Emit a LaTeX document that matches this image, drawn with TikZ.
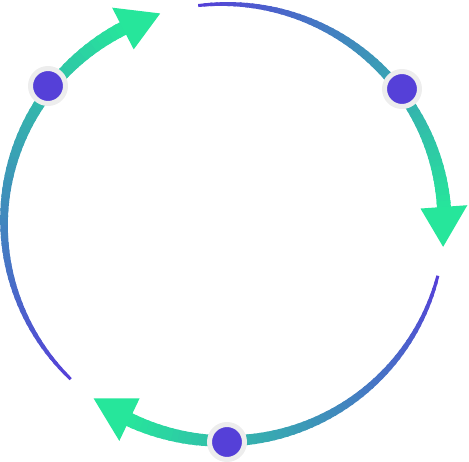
\documentclass[tikz,border=0pt]{standalone}
\usepackage{tikz}
\definecolor{cpurple}{RGB}{85,64,216}
\definecolor{cgreen}{RGB}{38,230,155}
\definecolor{ringgray}{RGB}{237,237,237}
\begin{document}
\begin{tikzpicture}[x=1pt,y=1pt,
  dot/.style={circle,fill=cpurple,draw=ringgray,line width=5pt,minimum size=35pt,inner sep=0pt}]
\useasboundingbox (0,0) rectangle (469,462);
\def\cx{224.25}
\def\cy{239.5}
\def\rx{220.25}
\def\ry{218.5}
\def\N{60}
\foreach \s/\e/\t in {96.8/4.1/-6.4, -14.1/-115.5/-126.4, 225.8/117.4/106.9}{
  \foreach \i in {0,...,59}{
    \pgfmathsetmacro\ta{\s+(\e-\s)*\i/\N}
    \pgfmathsetmacro\tb{\s+(\e-\s)*(\i+1.4)/\N}
    \pgfmathsetmacro\wa{(3+11*\i/\N)/2}
    \pgfmathsetmacro\wb{(3+11*(\i+1.4)/\N)/2}
    \pgfmathtruncatemacro\pct{100*(\i+0.5)/\N}
    \fill[cgreen!\pct!cpurple]
      ({\cx+(\rx-\wa)*cos(\ta)},{\cy+(\ry-\wa)*sin(\ta)}) --
      ({\cx+(\rx+\wa)*cos(\ta)},{\cy+(\ry+\wa)*sin(\ta)}) --
      ({\cx+(\rx+\wb)*cos(\tb)},{\cy+(\ry+\wb)*sin(\tb)}) --
      ({\cx+(\rx-\wb)*cos(\tb)},{\cy+(\ry-\wb)*sin(\tb)}) -- cycle;
  }
  \fill[cgreen]
    ({\cx+(\rx-23.5)*cos(\e)},{\cy+(\ry-23.5)*sin(\e)}) --
    ({\cx+(\rx+23.5)*cos(\e)},{\cy+(\ry+23.5)*sin(\e)}) --
    ({\cx+\rx*cos(\t)},{\cy+\ry*sin(\t)}) -- cycle;
}
\node[dot] (d1) at (48,376) {};
\node[dot] (d2) at (402,373) {};
\node[dot] (d3) at (227,20) {};
\end{tikzpicture}
\end{document}
